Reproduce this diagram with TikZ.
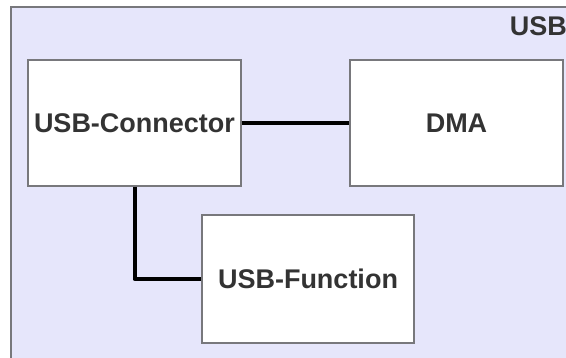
\documentclass[tikz,border=0pt]{standalone}
\usepackage{fontspec}
\setmainfont{Liberation Sans}
\definecolor{lavender}{RGB}{230,230,251}
\definecolor{frame}{RGB}{120,120,124}
\definecolor{txt}{RGB}{51,51,51}

\begin{document}
\begin{tikzpicture}[x=1pt,y=-1pt]

      \useasboundingbox (0,0) rectangle (566,358);
      \clip (0,0) rectangle (566,358);

      % Container
      \draw[frame,fill=lavender,line width=1.4pt] (11,7) rectangle (580,372);
      \node[anchor=base east,text=txt,font=\bfseries\fontsize{27}{32}\selectfont,inner sep=0pt] (usb) at (567,36) {USB};

      % Nodes
      \begin{scope}[every node/.style={rectangle,draw=frame,line width=1.4pt,fill=white,
          text=txt,font=\bfseries\fontsize{27}{32}\selectfont,inner sep=0pt}]
        \node[minimum width=213pt,minimum height=126pt] (con) at (134.5,123) {USB-Connector};
        \node[minimum width=213pt,minimum height=126pt] (dma) at (456.5,123) {DMA};
        \node[minimum width=212pt,minimum height=128pt] (fn) at (308,279) {USB-Function};
      \end{scope}

      % Edges
      \begin{scope}[every path/.style={draw,line width=4pt,line join=round}]
        \path (con) -- (dma);
        \path (con) |- (fn);
      \end{scope}

    \end{tikzpicture}
\end{document}
